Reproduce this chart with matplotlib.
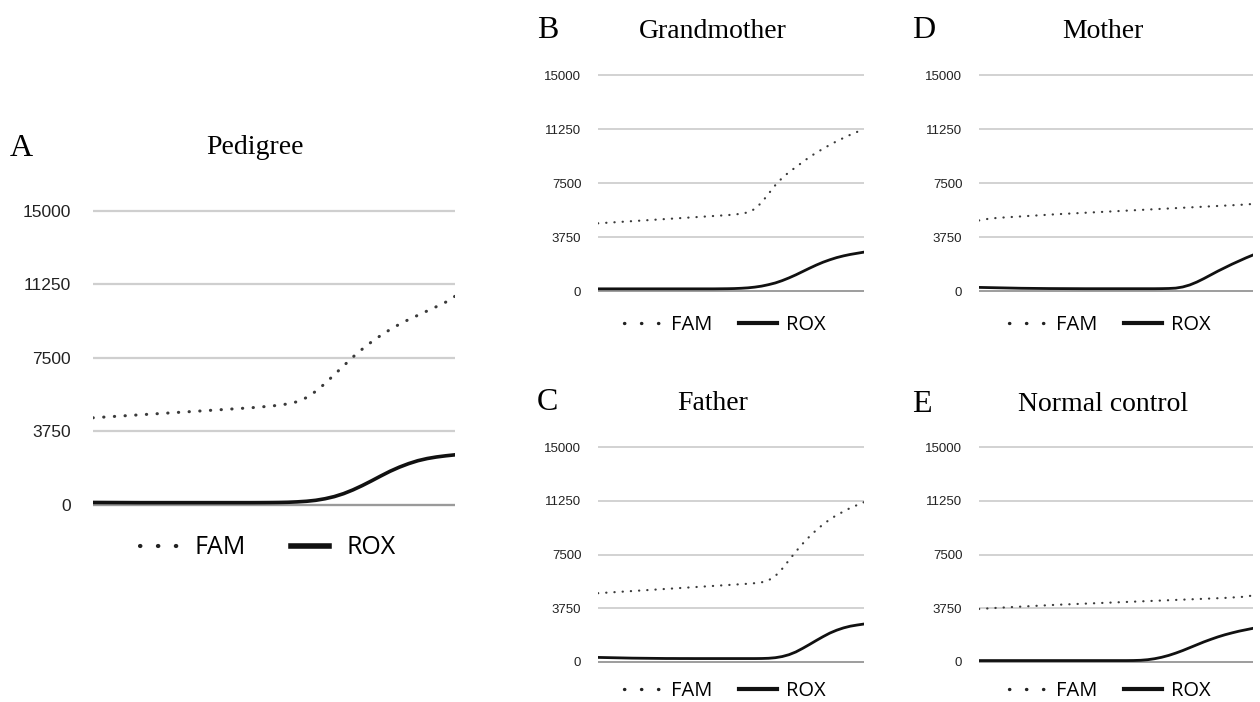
import matplotlib
matplotlib.use("Agg")
import matplotlib.pyplot as plt
from matplotlib.lines import Line2D

# amplification cycles (40) and fluorescence
cycles = list(range(1, 41))
y_ticks = [0, 3750, 7500, 11250, 15000]
y_tick_labels = ["0", "3750", "7500", "11250", "15000"]

fam_pedigree = [4450, 4480, 4510, 4540, 4570, 4600, 4630, 4660, 4690, 4720,
                4750, 4780, 4810, 4840, 4870, 4900, 4930, 4960, 5000, 5040,
                5090, 5160, 5270, 5480, 5800, 6200, 6650, 7100, 7550, 7950,
                8320, 8650, 8950, 9220, 9460, 9680, 9900, 10120, 10350, 10650]
rox_pedigree = [130, 128, 126, 124, 122, 120, 120, 120, 120, 120,
                120, 120, 120, 120, 120, 120, 120, 120, 122, 125,
                130, 140, 160, 190, 240, 320, 430, 580, 770, 990,
                1230, 1480, 1720, 1930, 2110, 2260, 2370, 2450, 2510, 2560]

fam_grandmother = [4700, 4730, 4760, 4790, 4820, 4850, 4880, 4910, 4940, 4970,
                   5000, 5030, 5060, 5090, 5120, 5150, 5180, 5210, 5240, 5270,
                   5310, 5370, 5460, 5700, 6150, 6750, 7350, 7850, 8250, 8600,
                   8950, 9300, 9600, 9880, 10150, 10400, 10630, 10850, 11050, 11250]
rox_grandmother = [150, 150, 150, 150, 150, 150, 150, 150, 150, 150,
                   150, 150, 150, 150, 150, 150, 150, 150, 155, 160,
                   170, 190, 220, 270, 340, 440, 560, 720, 910, 1120,
                   1350, 1580, 1800, 2000, 2170, 2320, 2440, 2540, 2620, 2700]

fam_mother = [4900, 4990, 5050, 5090, 5120, 5150, 5180, 5210, 5240, 5270,
              5300, 5330, 5355, 5380, 5405, 5430, 5455, 5480, 5505, 5530,
              5555, 5580, 5605, 5630, 5655, 5680, 5705, 5730, 5755, 5780,
              5805, 5830, 5855, 5880, 5905, 5930, 5955, 5980, 6005, 6050]
rox_mother = [250, 240, 230, 220, 210, 200, 190, 185, 180, 175,
              170, 168, 166, 164, 162, 160, 160, 160, 160, 160,
              160, 160, 160, 160, 160, 160, 165, 175, 200, 280,
              420, 620, 860, 1120, 1380, 1620, 1860, 2080, 2300, 2500]

fam_father = [4800, 4830, 4860, 4890, 4920, 4950, 4980, 5010, 5040, 5070,
              5100, 5130, 5160, 5190, 5220, 5250, 5280, 5310, 5340, 5370,
              5400, 5430, 5460, 5500, 5560, 5700, 6000, 6500, 7100, 7700,
              8250, 8750, 9200, 9600, 9950, 10250, 10500, 10750, 10950, 11150]
rox_father = [320, 310, 300, 290, 280, 270, 265, 260, 255, 250,
              245, 245, 242, 242, 240, 240, 240, 240, 240, 240,
              240, 240, 240, 240, 245, 260, 300, 380, 510, 700,
              950, 1220, 1500, 1770, 2020, 2220, 2380, 2500, 2580, 2650]

fam_control = [3700, 3730, 3760, 3790, 3815, 3840, 3865, 3890, 3915, 3940,
               3965, 3990, 4010, 4030, 4050, 4070, 4090, 4110, 4130, 4150,
               4170, 4190, 4210, 4230, 4250, 4270, 4290, 4310, 4330, 4350,
               4370, 4390, 4410, 4430, 4450, 4470, 4500, 4530, 4560, 4650]
rox_control = [100, 100, 100, 100, 100, 100, 100, 100, 100, 100,
               100, 100, 100, 100, 100, 100, 100, 100, 100, 100,
               100, 100, 105, 120, 160, 230, 330, 460, 620, 800,
               1000, 1200, 1400, 1580, 1750, 1900, 2030, 2150, 2250, 2350]

W, H = 1260, 702
fig = plt.figure(figsize=(W / 100, H / 100), dpi=100)


def add_panel(left, right, y0, y15, fam, rox, letter, title, title_x, title_y,
              legend_y, big=False):
    lo, hi = -250, 15250
    ppu = (y0 - y15) / 15000.0
    bottom_px = y0 + (0 - lo) * ppu
    top_px = y15 - (hi - 15000) * ppu
    ax = fig.add_axes([left / W, 1 - bottom_px / H, (right - left) / W,
                       (bottom_px - top_px) / H])
    ax.set_xlim(cycles[0], cycles[-1])
    ax.set_ylim(lo, hi)

    grid_lw = 1.6 if big else 1.3
    ax.set_yticks(y_ticks)
    ax.set_yticklabels(y_tick_labels)
    ax.yaxis.grid(True, color="#cfcfcf", lw=grid_lw)
    ax.set_axisbelow(True)
    ax.axhline(0, color="#9a9a9a", lw=grid_lw, zorder=1)
    ax.set_xticks([])
    for s in ax.spines.values():
        s.set_visible(False)
    ax.tick_params(axis="y", length=0, pad=16 if big else 12,
                   labelsize=12.5 if big else 9.5, labelcolor="#222222")
    for lab in ax.get_yticklabels():
        lab.set_fontfamily("Liberation Sans")

    dot_lw = 2.2 if big else 1.6
    rox_lw = 2.6 if big else 2.0
    ax.plot(cycles, fam, color="#3a3a3a", lw=dot_lw,
            linestyle=(0, (0.1, 3.4 if big else 3.6)), dash_capstyle="round",
            zorder=3)
    ax.plot(cycles, rox, color="#111111", lw=rox_lw, zorder=3)

    # legend proxies look like the legend in the picture
    if big:
        fsize, hlen, hpad, cspace = 18, 1.5, 0.7, 1.8
        h_fam = Line2D([], [], color="#222222", lw=3.0,
                       linestyle=(0, (0.1, 4.2)), dash_capstyle="round")
        h_rox = Line2D([], [], color="#111111", lw=4.0)
    else:
        fsize, hlen, hpad, cspace = 14.5, 1.9, 0.45, 1.3
        h_fam = Line2D([], [], color="#222222", lw=2.4,
                       linestyle=(0, (0.1, 5.0)), dash_capstyle="round")
        h_rox = Line2D([], [], color="#111111", lw=3.0)
    cx = (left + right) / 2 / W
    fig.legend([h_fam, h_rox], ["FAM", "ROX"], loc="center",
               bbox_to_anchor=(cx - 0.005, 1 - legend_y / H), ncol=2,
               frameon=False, handlelength=hlen, handletextpad=hpad,
               columnspacing=cspace,
               prop={"family": "Open Sans", "size": fsize})

    fig.text(title_x / W, 1 - title_y / H, title, ha="center", va="center",
             fontsize=20, family="Liberation Serif")
    fig.text(letter[1] / W, 1 - title_y / H, letter[0], ha="left",
             va="center", fontsize=23, family="Liberation Serif")
    return ax


add_panel(93, 455, 505, 211, fam_pedigree, rox_pedigree, ("A", 10),
          "Pedigree", 255, 148, 548, big=True)
add_panel(598, 864, 291, 75, fam_grandmother, rox_grandmother, ("B", 537),
          "Grandmother", 713, 31, 325)
add_panel(979, 1253, 291, 75, fam_mother, rox_mother, ("D", 912),
          "Mother", 1103, 31, 325)
add_panel(598, 864, 662, 447, fam_father, rox_father, ("C", 537),
          "Father", 713, 403, 691)
add_panel(979, 1253, 662, 447, fam_control, rox_control, ("E", 912),
          "Normal control", 1103, 405, 691)

fig.savefig("out.png", dpi=100)
